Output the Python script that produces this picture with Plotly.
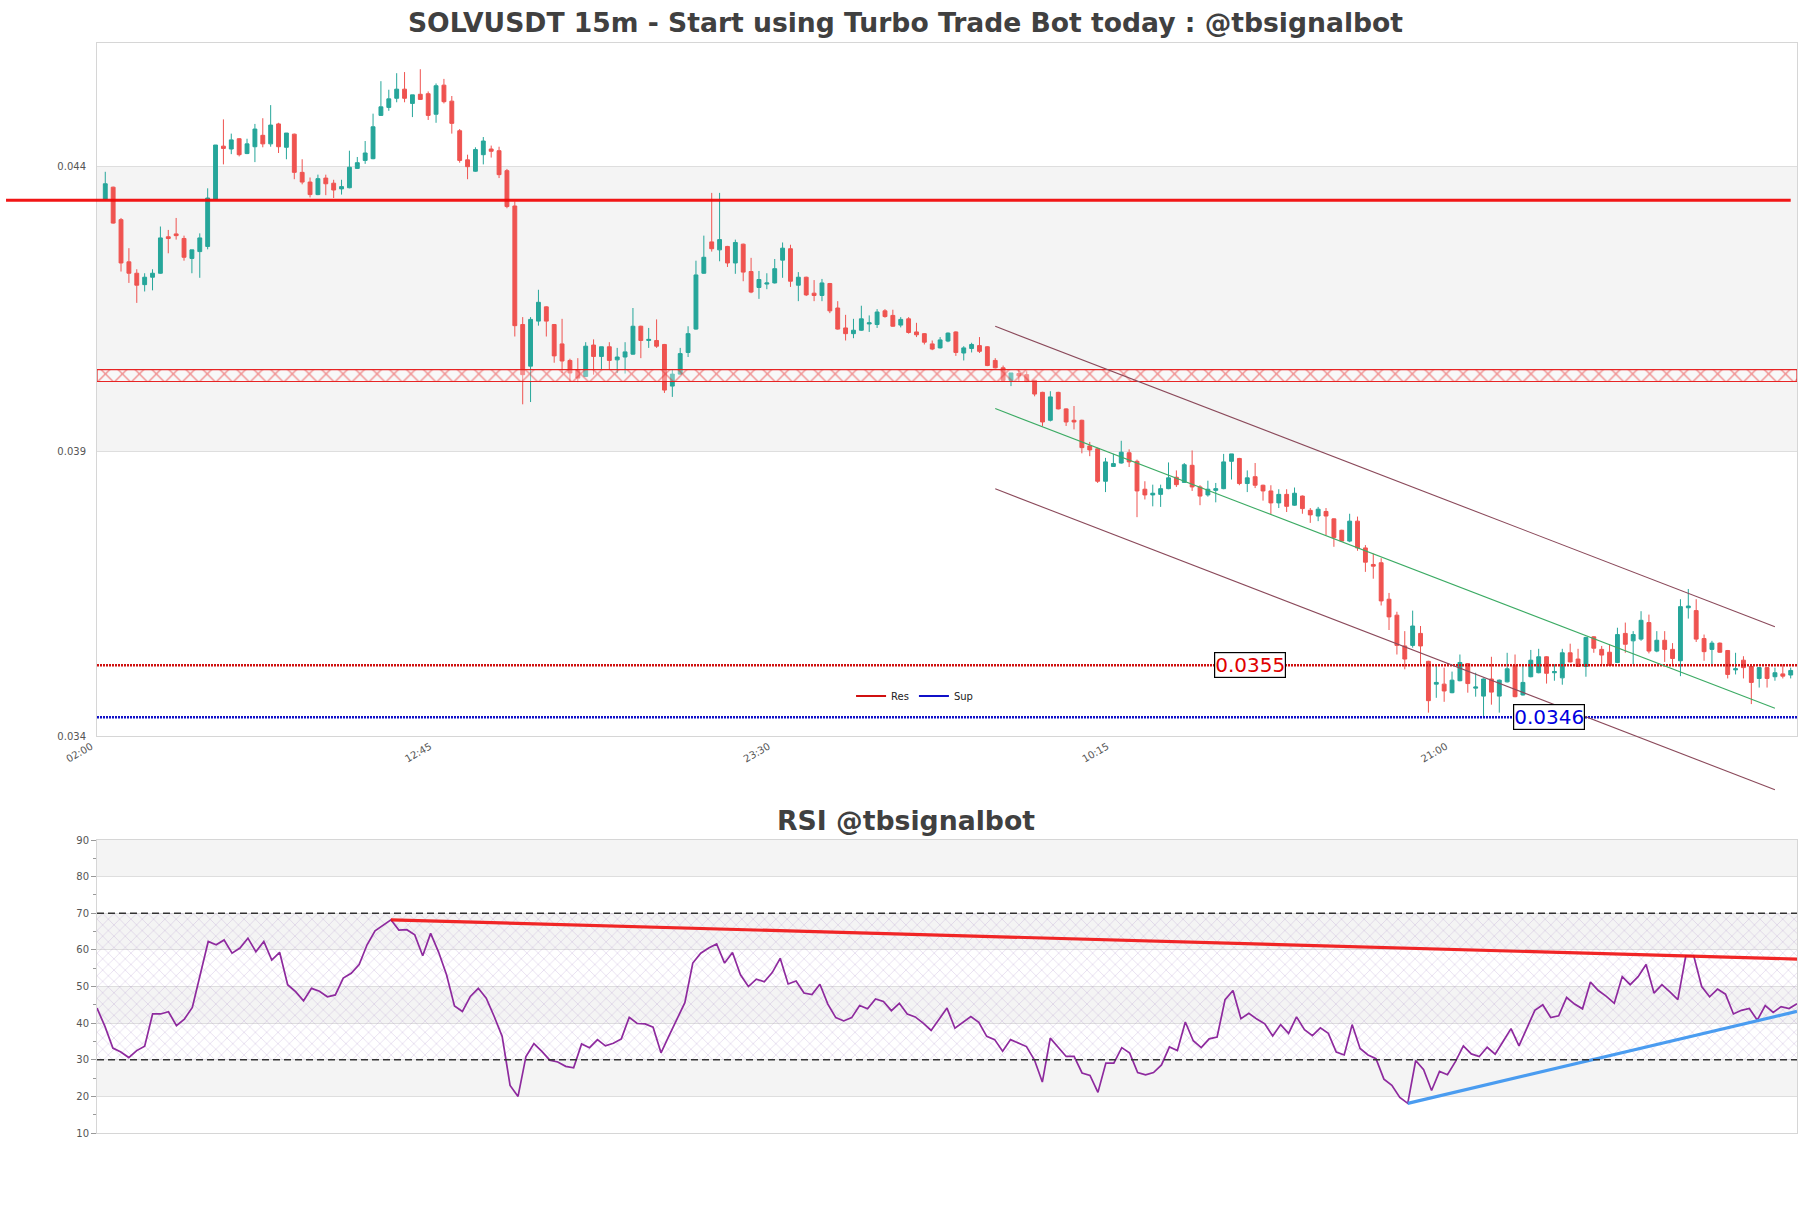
import plotly.graph_objects as go

# ---------------- data ----------------
opens = [0.04342,0.04363,0.04306,0.04232,0.04212,0.04192,0.04205,0.04212,0.04276,0.04281,
0.04273,0.04238,0.04250,0.04259,0.04342,0.04435,0.04430,0.04448,0.04422,0.04434,
0.04454,0.04439,0.04474,0.04433,0.04456,0.04389,0.04372,0.04350,0.04379,0.04370,
0.04360,0.04362,0.04396,0.04410,0.04413,0.04489,0.04503,0.04519,0.04535,0.04510,
0.04526,0.04527,0.04491,0.04542,0.04514,0.04462,0.04411,0.04391,0.04420,0.04430,
0.04427,0.04392,0.04330,0.04122,0.04049,0.04128,0.04153,0.04122,0.04088,0.04059,
0.04043,0.04031,0.04086,0.04066,0.04083,0.04060,0.04065,0.04070,0.04119,0.04094,
0.04094,0.04087,0.04014,0.04035,0.04073,0.04114,0.04212,0.04267,0.04253,0.04259,
0.04230,0.04263,0.04215,0.04187,0.04193,0.04195,0.04235,0.04255,0.04191,0.04205,
0.04177,0.04173,0.04194,0.04151,0.04116,0.04106,0.04112,0.04123,0.04122,0.04146,
0.04138,0.04121,0.04132,0.04109,0.04106,0.04088,0.04081,0.04093,0.04109,0.04072,
0.04080,0.04085,0.04083,0.04059,0.04046,0.04024,0.04036,0.04034,0.04024,0.04003,
0.03954,0.04003,0.03974,0.03954,0.03954,0.03909,0.03904,0.03847,0.03873,0.03879,
0.03897,0.03882,0.03833,0.03823,0.03824,0.03834,0.03854,0.03845,0.03875,0.03837,
0.03823,0.03831,0.03834,0.03882,0.03887,0.03843,0.03855,0.03840,0.03830,0.03809,
0.03824,0.03805,0.03821,0.03796,0.03786,0.03794,0.03781,0.03761,0.03742,0.03777,
0.03730,0.03701,0.03704,0.03640,0.03612,0.03558,0.03559,0.03580,0.03531,0.03491,
0.03491,0.03476,0.03497,0.03527,0.03484,0.03470,0.03500,0.03470,0.03495,0.03524,
0.03472,0.03504,0.03511,0.03539,0.03511,0.03502,0.03546,0.03535,0.03522,0.03574,
0.03552,0.03547,0.03529,0.03580,0.03567,0.03570,0.03599,0.03549,0.03568,0.03552,
0.03532,0.03625,0.03620,0.03571,0.03552,0.03563,0.03550,0.03516,0.03533,0.03522,
0.03501,0.03520,0.03504,0.03509,0.03507]
highs = [0.04390,0.04364,0.04309,0.04256,0.04219,0.04212,0.04219,0.04294,0.04288,0.04309,
0.04278,0.04253,0.04282,0.04361,0.04437,0.04482,0.04457,0.04449,0.04448,0.04474,
0.04484,0.04507,0.04476,0.04458,0.04457,0.04412,0.04380,0.04385,0.04385,0.04376,
0.04376,0.04427,0.04416,0.04444,0.04492,0.04549,0.04534,0.04563,0.04565,0.04525,
0.04570,0.04531,0.04545,0.04553,0.04523,0.04465,0.04420,0.04433,0.04451,0.04436,
0.04434,0.04395,0.04338,0.04135,0.04135,0.04183,0.04154,0.04123,0.04132,0.04062,
0.04063,0.04091,0.04096,0.04083,0.04091,0.04081,0.04091,0.04151,0.04120,0.04116,
0.04131,0.04088,0.04043,0.04081,0.04119,0.04234,0.04278,0.04353,0.04353,0.04260,
0.04271,0.04264,0.04239,0.04216,0.04212,0.04237,0.04266,0.04262,0.04214,0.04206,
0.04200,0.04202,0.04195,0.04163,0.04139,0.04132,0.04155,0.04138,0.04149,0.04149,
0.04148,0.04135,0.04135,0.04125,0.04107,0.04094,0.04100,0.04108,0.04110,0.04084,
0.04090,0.04100,0.04084,0.04063,0.04050,0.04037,0.04042,0.04040,0.04025,0.04004,
0.04005,0.04004,0.03975,0.03979,0.03955,0.03916,0.03906,0.03888,0.03895,0.03918,
0.03903,0.03885,0.03847,0.03841,0.03841,0.03880,0.03866,0.03879,0.03901,0.03840,
0.03848,0.03844,0.03895,0.03895,0.03888,0.03866,0.03879,0.03841,0.03840,0.03833,
0.03833,0.03836,0.03822,0.03800,0.03802,0.03800,0.03782,0.03762,0.03790,0.03785,
0.03735,0.03720,0.03712,0.03651,0.03618,0.03584,0.03620,0.03593,0.03532,0.03526,
0.03520,0.03513,0.03543,0.03528,0.03511,0.03501,0.03539,0.03499,0.03546,0.03543,
0.03523,0.03551,0.03553,0.03540,0.03526,0.03553,0.03562,0.03553,0.03574,0.03575,
0.03558,0.03561,0.03590,0.03599,0.03584,0.03619,0.03613,0.03584,0.03584,0.03563,
0.03640,0.03658,0.03640,0.03578,0.03567,0.03564,0.03551,0.03546,0.03540,0.03524,
0.03521,0.03521,0.03520,0.03526,0.03520]
lows = [0.04340,0.04299,0.04215,0.04195,0.04160,0.04180,0.04182,0.04211,0.04247,0.04271,
0.04234,0.04212,0.04204,0.04254,0.04341,0.04403,0.04421,0.04417,0.04421,0.04407,
0.04433,0.04434,0.04423,0.04412,0.04377,0.04368,0.04345,0.04349,0.04349,0.04344,
0.04350,0.04361,0.04395,0.04404,0.04412,0.04488,0.04497,0.04512,0.04512,0.04486,
0.04516,0.04481,0.04476,0.04510,0.04457,0.04406,0.04377,0.04390,0.04403,0.04415,
0.04379,0.04326,0.04101,0.03982,0.03986,0.04120,0.04101,0.04055,0.04037,0.04022,
0.04021,0.04030,0.04034,0.04043,0.04043,0.04037,0.04036,0.04069,0.04063,0.04081,
0.04081,0.04002,0.03995,0.04034,0.04065,0.04113,0.04211,0.04250,0.04233,0.04223,
0.04211,0.04198,0.04177,0.04167,0.04184,0.04194,0.04204,0.04188,0.04163,0.04172,
0.04163,0.04163,0.04142,0.04113,0.04094,0.04098,0.04111,0.04109,0.04116,0.04134,
0.04118,0.04117,0.04106,0.04100,0.04087,0.04077,0.04080,0.04091,0.04067,0.04059,
0.04073,0.04072,0.04049,0.04045,0.04022,0.04014,0.04022,0.04021,0.03996,0.03944,
0.03952,0.03973,0.03944,0.03938,0.03896,0.03891,0.03844,0.03828,0.03872,0.03878,
0.03872,0.03784,0.03815,0.03803,0.03802,0.03833,0.03837,0.03844,0.03830,0.03805,
0.03820,0.03810,0.03833,0.03850,0.03840,0.03828,0.03835,0.03813,0.03789,0.03800,
0.03793,0.03804,0.03790,0.03774,0.03777,0.03752,0.03732,0.03741,0.03740,0.03725,
0.03688,0.03676,0.03629,0.03586,0.03543,0.03517,0.03555,0.03524,0.03441,0.03467,
0.03460,0.03475,0.03496,0.03476,0.03469,0.03435,0.03455,0.03441,0.03494,0.03468,
0.03471,0.03503,0.03510,0.03492,0.03497,0.03490,0.03529,0.03521,0.03504,0.03546,
0.03524,0.03523,0.03528,0.03546,0.03526,0.03567,0.03545,0.03547,0.03530,0.03526,
0.03505,0.03606,0.03565,0.03532,0.03526,0.03546,0.03501,0.03508,0.03501,0.03456,
0.03485,0.03485,0.03497,0.03501,0.03501]
closes = [0.04369,0.04300,0.04230,0.04212,0.04191,0.04205,0.04212,0.04274,0.04273,0.04278,
0.04240,0.04253,0.04274,0.04344,0.04437,0.04431,0.04446,0.04420,0.04439,0.04465,
0.04439,0.04472,0.04434,0.04458,0.04389,0.04372,0.04350,0.04378,0.04369,0.04358,
0.04364,0.04398,0.04406,0.04423,0.04469,0.04504,0.04518,0.04535,0.04519,0.04525,
0.04517,0.04489,0.04541,0.04513,0.04475,0.04410,0.04399,0.04429,0.04444,0.04426,
0.04385,0.04329,0.04120,0.04034,0.04131,0.04161,0.04128,0.04067,0.04058,0.04037,
0.04028,0.04084,0.04066,0.04083,0.04059,0.04065,0.04074,0.04119,0.04094,0.04096,
0.04084,0.04007,0.04035,0.04071,0.04106,0.04209,0.04240,0.04255,0.04271,0.04230,
0.04266,0.04214,0.04179,0.04201,0.04195,0.04220,0.04256,0.04198,0.04205,0.04174,
0.04173,0.04195,0.04146,0.04114,0.04106,0.04112,0.04132,0.04125,0.04144,0.04136,
0.04119,0.04131,0.04108,0.04104,0.04091,0.04079,0.04095,0.04107,0.04073,0.04081,
0.04087,0.04075,0.04050,0.04046,0.04024,0.04037,0.04032,0.04022,0.04000,0.03951,
0.03995,0.03974,0.03951,0.03951,0.03906,0.03902,0.03847,0.03881,0.03878,0.03898,
0.03881,0.03830,0.03823,0.03826,0.03834,0.03853,0.03841,0.03876,0.03837,0.03821,
0.03833,0.03834,0.03881,0.03895,0.03843,0.03853,0.03840,0.03830,0.03809,0.03824,
0.03803,0.03826,0.03799,0.03788,0.03798,0.03786,0.03748,0.03742,0.03777,0.03730,
0.03705,0.03698,0.03637,0.03609,0.03559,0.03535,0.03593,0.03558,0.03462,0.03494,
0.03479,0.03498,0.03529,0.03492,0.03486,0.03500,0.03477,0.03498,0.03518,0.03469,
0.03494,0.03533,0.03539,0.03510,0.03513,0.03546,0.03530,0.03522,0.03573,0.03554,
0.03542,0.03524,0.03578,0.03561,0.03578,0.03603,0.03549,0.03568,0.03552,0.03536,
0.03627,0.03628,0.03570,0.03548,0.03563,0.03547,0.03508,0.03518,0.03520,0.03494,
0.03520,0.03501,0.03511,0.03505,0.03515]
rsi = [44.1,39.1,33.2,32.1,30.6,32.5,33.7,42.5,42.5,43.1,39.3,41.1,44.3,53.2,62.3,61.4,62.7,59.1,60.5,63.2,
59.5,62.3,57.2,59.3,50.5,48.6,46.1,49.5,48.7,47.2,47.7,52.3,53.6,56.0,61.4,65.2,66.8,68.2,65.4,65.5,
64.1,58.4,64.5,59.4,53.2,44.7,43.2,47.3,49.5,46.8,41.8,36.4,23.0,20.0,30.9,34.4,32.3,29.9,29.4,28.2,
27.8,34.3,33.3,35.5,33.8,34.5,35.7,41.6,39.9,39.8,38.9,31.9,36.5,41.2,45.6,56.4,59.1,60.5,61.6,56.4,
59.3,53.2,50.0,52.0,51.3,53.8,57.7,50.7,51.5,48.2,47.8,50.6,45.2,41.5,40.6,41.5,44.8,43.9,46.6,45.9,
43.4,45.4,42.5,41.7,40.0,38.0,41.2,44.1,38.6,40.3,41.8,40.2,36.4,35.5,32.3,35.5,34.5,33.6,30.0,23.9,
35.9,33.4,30.9,30.9,26.4,25.7,21.1,29.1,29.1,33.3,31.8,26.5,25.9,26.5,28.6,33.5,32.5,40.3,35.2,33.3,
35.7,36.2,46.4,48.9,41.2,42.7,41.1,39.8,36.5,39.6,37.2,41.7,38.2,36.6,38.7,37.2,32.1,31.3,39.6,33.1,
31.3,30.3,24.7,23.0,19.7,18.1,29.8,27.3,21.6,26.8,25.9,29.5,33.8,31.6,30.9,33.4,31.5,35.0,38.5,33.8,
38.5,43.5,45.0,41.5,42.0,47.0,45.2,43.9,51.2,48.9,47.3,45.4,52.7,50.5,52.7,56.0,48.2,50.5,48.5,46.4,
58.4,58.4,50.0,47.2,49.3,47.9,42.5,43.5,44.0,40.8,44.8,42.9,44.5,44.0,45.3]

candle_index = list(range(len(opens)))
x_tick_pos = [0, 43, 86, 129, 172]
x_tick_text = ["02:00", "12:45", "23:30", "10:15", "21:00"]
price_ticks = [0.034, 0.039, 0.044]
price_tick_text = ["0.034", "0.039", "0.044"]
rsi_ticks = [10, 20, 30, 40, 50, 60, 70, 80, 90]

main_level = 0.04340
main_level_x = [-12.6, 214]
zone_low, zone_high = 0.04022, 0.04043
res_level, res_text, res_label_x = 0.03524, "0.0355", 145.3
sup_level, sup_text, sup_label_x = 0.03433, "0.0346", 183.3
channel_x = [113, 212]
channel_upper = [0.041189, 0.035918]
channel_mid = [0.039745, 0.034487]
channel_lower = [0.038337, 0.033057]
rsi_res_x, rsi_res_y = [37, 214], [68.2, 57.5]
rsi_sup_x, rsi_sup_y = [165, 214], [18.1, 43.2]

# ---------------- layout geometry ----------------
W, H = 1811, 1208
X_DOM = [97 / W, 1797 / W]
MAIN_DOM = [1 - 736 / H, 1 - 43 / H]
RSI_DOM = [1 - 1133 / H, 1 - 840 / H]
X_RANGE = [-1.05, 214.8]
Y_RANGE = [0.034, 0.04616]
RSI_X_RANGE = [0, 214]
RSI_Y_RANGE = [10, 90]

def paper_x(i):
    return X_DOM[0] + (i - X_RANGE[0]) / (X_RANGE[1] - X_RANGE[0]) * (X_DOM[1] - X_DOM[0])

def paper_y(p):
    return MAIN_DOM[0] + (p - Y_RANGE[0]) / (Y_RANGE[1] - Y_RANGE[0]) * (MAIN_DOM[1] - MAIN_DOM[0])

FONT = "DejaVu Sans"
GREEN, RED = "#26a69a", "#ef5350"
RES_COL, SUP_COL = "#d01010", "#1010c8"

fig = go.Figure()

# hatched zone
fig.add_trace(go.Scatter(
    x=[X_RANGE[0], X_RANGE[1], X_RANGE[1], X_RANGE[0], X_RANGE[0]],
    y=[zone_low, zone_low, zone_high, zone_high, zone_low],
    mode="lines", fill="toself", line=dict(color="rgba(230,25,25,0.95)", width=1.2),
    fillcolor="rgba(255,255,255,0.35)",
    fillpattern=dict(shape="x", fgcolor="rgba(230,25,25,0.95)", size=12, solidity=0.22),
    showlegend=False, hoverinfo="skip", xaxis="x", yaxis="y"))

fig.add_trace(go.Candlestick(
    x=candle_index, open=opens, high=highs, low=lows, close=closes,
    increasing=dict(line=dict(color=GREEN, width=1), fillcolor=GREEN),
    decreasing=dict(line=dict(color=RED, width=1), fillcolor=RED),
    showlegend=False, xaxis="x", yaxis="y"))

# Res / Sup lines
fig.add_trace(go.Scatter(x=X_RANGE, y=[res_level, res_level], mode="lines",
                         line=dict(color=RES_COL, width=2.5, dash="2px,1px"),
                         showlegend=False, xaxis="x", yaxis="y", hoverinfo="skip"))
fig.add_trace(go.Scatter(x=X_RANGE, y=[sup_level, sup_level], mode="lines",
                         line=dict(color=SUP_COL, width=2.5, dash="2px,1px"),
                         showlegend=False, xaxis="x", yaxis="y", hoverinfo="skip"))
# legend entries
fig.add_trace(go.Scatter(x=[None], y=[None], mode="lines", line=dict(color=RES_COL, width=2),
                         name="Res", xaxis="x", yaxis="y"))
fig.add_trace(go.Scatter(x=[None], y=[None], mode="lines", line=dict(color=SUP_COL, width=2),
                         name="Sup", xaxis="x", yaxis="y"))

# RSI hatch 30-70
fig.add_trace(go.Scatter(
    x=[RSI_X_RANGE[0], RSI_X_RANGE[1], RSI_X_RANGE[1], RSI_X_RANGE[0], RSI_X_RANGE[0]],
    y=[30, 30, 70, 70, 30], mode="lines", fill="toself", line=dict(width=0),
    fillcolor="rgba(0,0,0,0)",
    fillpattern=dict(shape="x", fgcolor="rgba(160,130,195,0.8)", size=8, solidity=0.14),
    showlegend=False, hoverinfo="skip", xaxis="x2", yaxis="y2"))

fig.add_trace(go.Scatter(x=list(range(len(rsi))), y=rsi, mode="lines",
                         line=dict(color="#8e2a9e", width=1.7), showlegend=False,
                         xaxis="x2", yaxis="y2"))
fig.add_trace(go.Scatter(x=rsi_res_x, y=rsi_res_y, mode="lines",
                         line=dict(color="rgba(240,20,20,0.92)", width=3.2), showlegend=False,
                         xaxis="x2", yaxis="y2"))
fig.add_trace(go.Scatter(x=rsi_sup_x, y=rsi_sup_y, mode="lines",
                         line=dict(color="#4a9cf0", width=3.2), showlegend=False,
                         xaxis="x2", yaxis="y2"))

shapes = []
shapes.append(dict(type="rect", xref="x domain", yref="y", x0=0, x1=1,
                   y0=price_ticks[1], y1=price_ticks[2], fillcolor="#f4f4f4",
                   line=dict(width=0), layer="below"))
for lo, hi in zip(rsi_ticks[1::2], rsi_ticks[2::2]):
    shapes.append(dict(type="rect", xref="x2 domain", yref="y2", x0=0, x1=1,
                       y0=lo, y1=hi, fillcolor="#f4f4f4", line=dict(width=0), layer="below"))
for lvl in (70, 30):
    shapes.append(dict(type="line", xref="x2 domain", yref="y2", x0=0, x1=1, y0=lvl, y1=lvl,
                       line=dict(color="#333333", width=1.3, dash="7px,4px")))
shapes.append(dict(type="line", xref="paper", yref="paper",
                   x0=paper_x(main_level_x[0]), x1=paper_x(main_level_x[1]),
                   y0=paper_y(main_level), y1=paper_y(main_level),
                   line=dict(color="rgba(240,10,10,0.95)", width=3)))
for ys, col in ((channel_upper, "#8b4a5b"), (channel_mid, "#3cab64"), (channel_lower, "#8b4a5b")):
    shapes.append(dict(type="line", xref="paper", yref="paper",
                       x0=paper_x(channel_x[0]), x1=paper_x(channel_x[1]),
                       y0=paper_y(ys[0]), y1=paper_y(ys[1]),
                       line=dict(color=col, width=1.1)))

annotations = [
    dict(text="<b>RSI @tbsignalbot</b>", x=0.5, y=1 - 820 / H, xref="paper", yref="paper",
         showarrow=False, xanchor="center", yanchor="middle",
         font=dict(family=FONT, size=26.7, color="#404040")),
    dict(text=res_text, x=res_label_x, y=res_level, xref="x", yref="y", showarrow=False,
         font=dict(family=FONT, size=20, color="#e00000"), bgcolor="white",
         bordercolor="black", borderwidth=1.2, borderpad=0, yanchor="middle"),
    dict(text=sup_text, x=sup_label_x, y=sup_level, xref="x", yref="y", showarrow=False,
         font=dict(family=FONT, size=20, color="#0000e0"), bgcolor="white",
         bordercolor="black", borderwidth=1.2, borderpad=0, yanchor="middle"),
]

axis_common = dict(showline=True, linecolor="#d6d6d6", linewidth=1, mirror=True,
                   zeroline=False, automargin=False)

fig.update_layout(
    width=W, height=H, margin=dict(l=0, r=0, t=0, b=0),
    paper_bgcolor="white", plot_bgcolor="white",
    font=dict(family=FONT, color="#444444"),
    title=dict(text="<b>SOLVUSDT 15m - Start using Turbo Trade Bot today : @tbsignalbot</b>",
               x=0.5, y=1 - 23 / H, xanchor="center", yanchor="middle",
               font=dict(family=FONT, size=26.6, color="#404040")),
    xaxis=dict(domain=X_DOM, range=X_RANGE, anchor="y", tickvals=x_tick_pos, ticktext=x_tick_text,
               tickangle=-30, tickfont=dict(size=10, color="#555555"), showgrid=False,
               ticklabelshift=-14, rangeslider=dict(visible=False), **axis_common),
    yaxis=dict(domain=MAIN_DOM, range=Y_RANGE, anchor="x", tickvals=price_ticks,
               ticktext=price_tick_text, tickfont=dict(size=10, color="#555555"),
               showgrid=True, gridcolor="#dedede", ticklabelstandoff=8, **axis_common),
    xaxis2=dict(domain=X_DOM, range=RSI_X_RANGE, anchor="y2", showticklabels=False,
                showgrid=False, **axis_common),
    yaxis2=dict(domain=RSI_DOM, range=RSI_Y_RANGE, anchor="x2", tickvals=rsi_ticks,
                tickfont=dict(size=10, color="#555555"), showgrid=True, gridcolor="#dedede",
                ticks="outside", ticklen=5, tickcolor="#999999",
                minor=dict(ticks="outside", dtick=5, ticklen=3, tickcolor="#999999", showgrid=False),
                **axis_common),
    legend=dict(orientation="h", x=0.505, xanchor="center", y=1 - 696 / H, yanchor="middle",
                font=dict(size=10, color="#222222"), bgcolor="rgba(0,0,0,0)", itemwidth=30),
    shapes=shapes, annotations=annotations, hovermode=False,
)

fig.write_html("out.html")
